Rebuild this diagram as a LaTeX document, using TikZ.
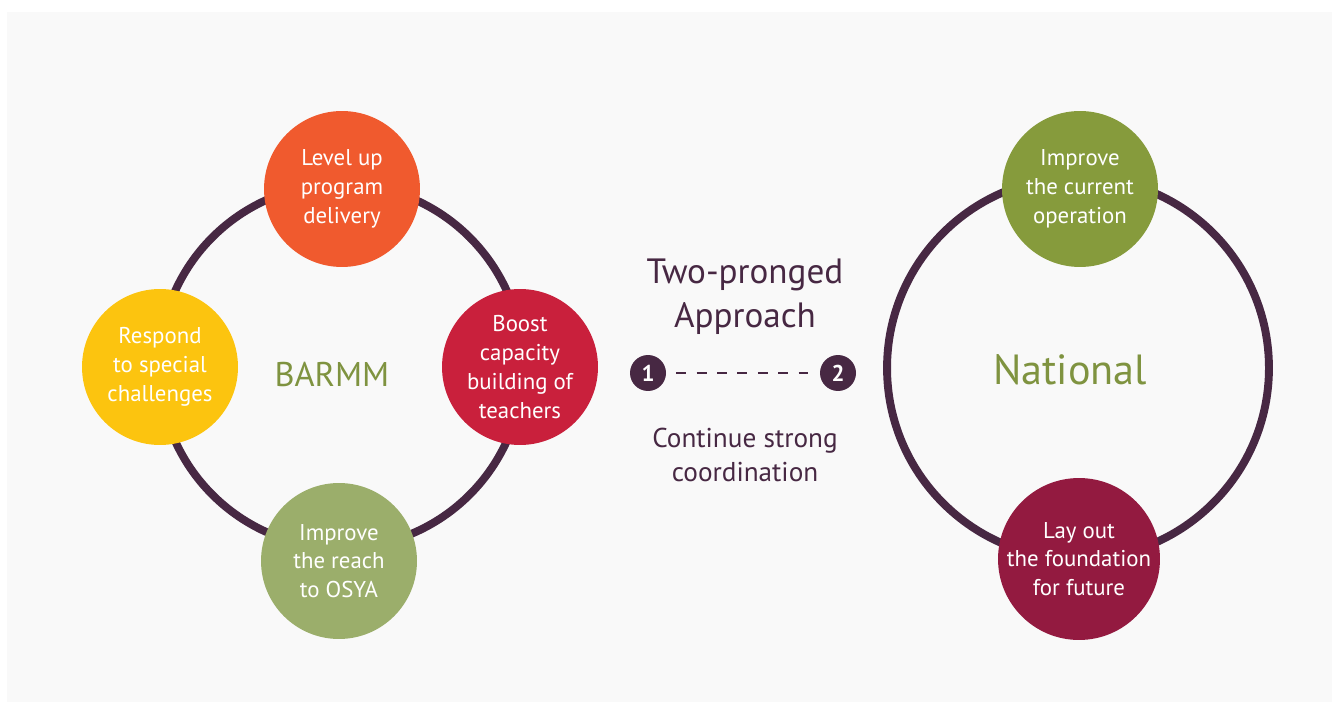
\documentclass[tikz,border=0pt]{standalone}
\usepackage{fontspec}
\setmainfont{PT Sans}
\usetikzlibrary{positioning}

\definecolor{plum}{HTML}{472843}
\definecolor{bgray}{HTML}{F9F9F9}
\definecolor{levelorange}{HTML}{F05A2E}
\definecolor{boostred}{HTML}{C9203C}
\definecolor{respondyellow}{HTML}{FCC40F}
\definecolor{reachgreen}{HTML}{9BAE6B}
\definecolor{improveolive}{HTML}{869B3C}
\definecolor{laymaroon}{HTML}{931A40}
\definecolor{labelolive}{HTML}{7F9340}

\tikzset{
  ring/.style={draw=plum, line width=4.5pt},
  bubble/.style={circle, fill=#1, text=white, minimum size=3.12cm,
    inner sep=0pt, align=center,
    font=\fontsize{13}{16.4}\selectfont},
  badge/.style={circle, fill=plum, text=white, minimum size=0.72cm,
    inner sep=0pt, font=\fontsize{13}{15}\selectfont\bfseries},
  headline/.style={text=plum, align=center}
}

\begin{document}
\begin{tikzpicture}[x=0.02cm, y=-0.02cm]
\useasboundingbox (0,0) rectangle (1339,709);
\fill[bgray] (7,12) rectangle (1332,702);

\coordinate (barmmc) at (341,366);
\coordinate (nationalc) at (1078,368);
\draw[ring] (barmmc) circle[radius=3.64cm];
\draw[ring] (nationalc) circle[radius=3.82cm];

\node[bubble=levelorange] (level) at (342,189) {Level up\\program\\delivery};
\node[bubble=respondyellow] (respond) at (160,367) {Respond\\to special\\challenges};
\node[bubble=boostred] (boost) at (520,367) {Boost\\capacity\\building of\\teachers};
\node[bubble=reachgreen] (reach) at (339,561) {Improve\\the reach\\to OSYA};
\node[text=labelolive, font=\fontsize{19.5}{23}\selectfont] (barmm) at (332,374) {BARMM};

\node[bubble=improveolive] (improve) at (1080,189) {Improve\\the current\\operation};
\node[bubble=laymaroon] (layout) at (1079,559) {Lay out\\the foundation\\for future};
\node[text=labelolive, font=\fontsize{24}{28}\selectfont] (national) at (1070,370) {National};

\node[headline, font=\fontsize{20}{25}\selectfont] (approach) at (745,297) {Two-pronged\\Approach};
\node[badge] (one) at (648,373) {1};
\node[badge] (two) at (838,373) {2};
\draw[plum, line width=1.4pt, dash pattern=on 5.6pt off 6pt, shorten <=0.2cm, shorten >=0.2cm] (one) -- (two);
\node[headline, font=\fontsize{15.5}{19.3}\selectfont] (coord) at (745,455) {Continue strong\\coordination};
\end{tikzpicture}
\end{document}
